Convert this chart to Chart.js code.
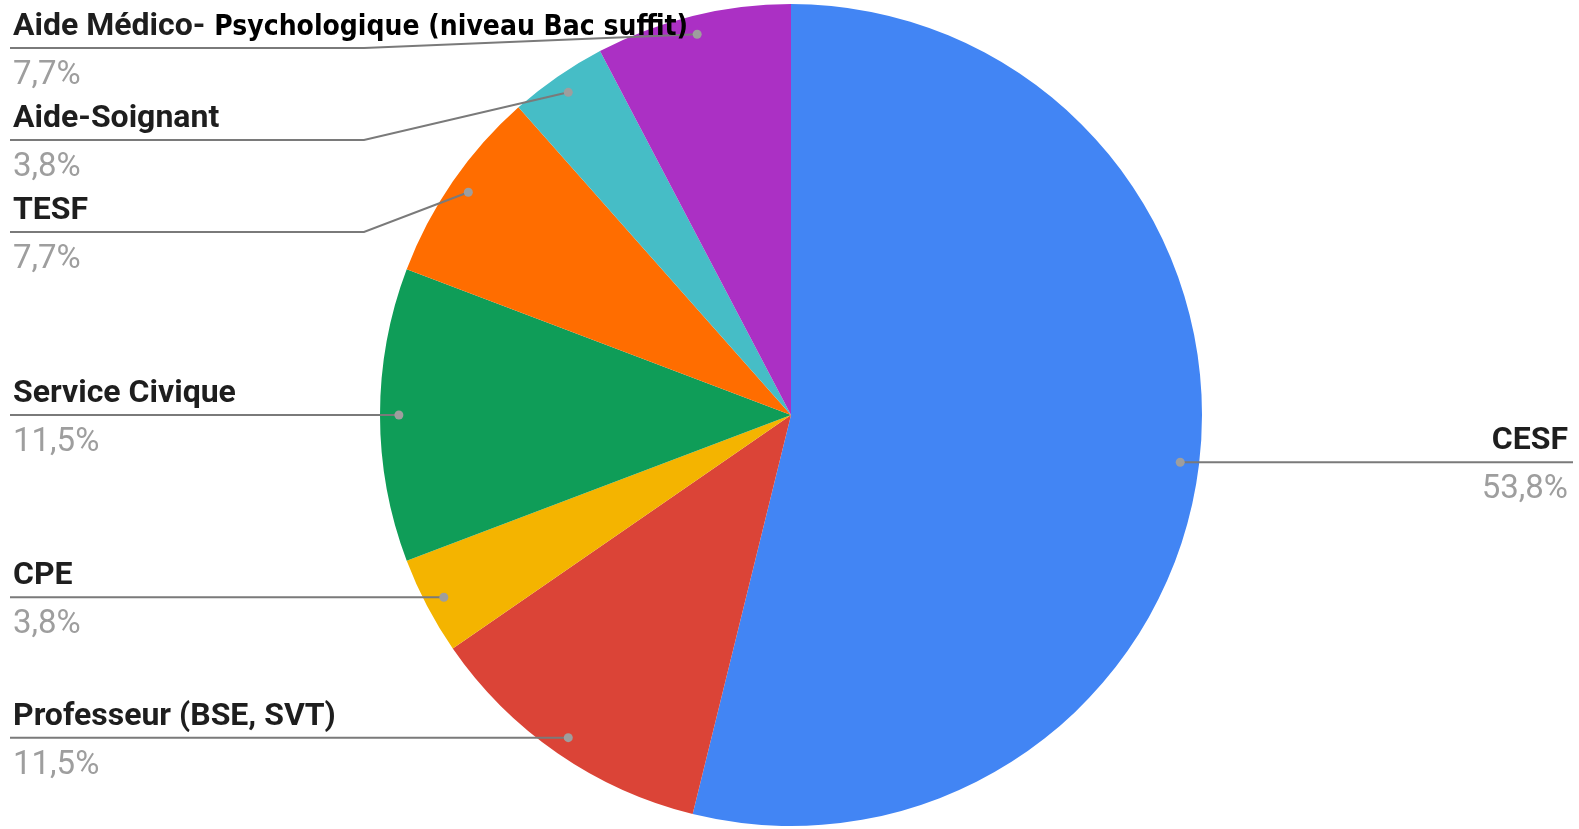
<!DOCTYPE html>
<html>
<head>
<meta charset="utf-8">
<script src="https://cdn.jsdelivr.net/npm/chart.js@4/dist/chart.umd.min.js"></script>
<style>
html,body{margin:0;padding:0;background:#fff;}
#wrap{width:1579px;height:829px;position:relative;}
</style>
</head>
<body>
<div id="wrap"><canvas id="c"></canvas></div>
<script>
const categoryParts = [
  ['CESF'],
  ['Professeur (BSE, SVT)'],
  ['CPE'],
  ['Service Civique'],
  ['TESF'],
  ['Aide-Soignant'],
  ['Aide Médico-', 'Psychologique (niveau Bac suffit)']
];
const categories = categoryParts.map(p => p.join(' '));
const counts = [14, 3, 1, 3, 2, 1, 2];
const sliceColors = ['#4285F4', '#DB4437', '#F4B400', '#0F9D58', '#FF6D00', '#46BDC6', '#AB30C4'];

const total = counts.reduce((a, b) => a + b, 0);
const pctText = v => (v / total * 100).toFixed(1).replace('.', ',') + '%';

const labelPlugin = {
  id: 'sideLabels',
  afterDraw(chart) {
    const ctx = chart.ctx;
    const meta = chart.getDatasetMeta(0);
    const W = chart.width;
    const items = meta.data.map((arc, i) => {
      const mid = (arc.startAngle + arc.endAngle) / 2;
      const r = arc.outerRadius * 0.954;
      return {
        i,
        dx: arc.x + Math.cos(mid) * r,
        dy: arc.y + Math.sin(mid) * r,
        right: Math.cos(mid) > 0
      };
    });
    const gap = 92, minTop = 48;
    ['left', 'right'].forEach(side => {
      const list = items.filter(it => (side === 'right') === it.right).sort((a, b) => a.dy - b.dy);
      let prev = -Infinity;
      list.forEach(it => {
        let y = Math.max(it.dy, minTop, prev + gap);
        it.ly = y;
        prev = y;
      });
    });
    const nameFont = 'bold 32px Roboto';
    const pctFont = '400 33px Roboto';
    items.forEach(it => {
      const ly = it.ly;
      ctx.save();
      ctx.strokeStyle = '#7a7a7a';
      ctx.lineWidth = 2;
      ctx.beginPath();
      if (it.right) {
        ctx.moveTo(it.dx, it.dy);
        const ex = it.dx + 20;
        if (Math.abs(ly - it.dy) > 1) ctx.lineTo(ex, ly);
        ctx.lineTo(W - 6, ly);
      } else {
        ctx.moveTo(10, ly);
        if (Math.abs(ly - it.dy) > 1) ctx.lineTo(364, ly);
        ctx.lineTo(it.dx, it.dy);
      }
      ctx.stroke();
      ctx.fillStyle = '#9e9e9e';
      ctx.beginPath();
      ctx.arc(it.dx, it.dy, 4.5, 0, Math.PI * 2);
      ctx.fill();
      ctx.restore();
    });
    items.forEach(it => {
      const ly = it.ly;
      const parts = categoryParts[it.i];
      ctx.save();
      ctx.textBaseline = 'alphabetic';
      if (it.right) {
        ctx.textAlign = 'right';
        ctx.font = nameFont;
        ctx.fillStyle = '#1e1e1e';
        ctx.fillText(parts.join(' '), W - 11, ly - 13);
        ctx.font = pctFont;
        ctx.fillStyle = '#9e9e9e';
        ctx.fillText(pctText(counts[it.i]), W - 11, ly + 36);
      } else {
        ctx.textAlign = 'left';
        ctx.font = nameFont;
        ctx.fillStyle = '#1e1e1e';
        ctx.fillText(parts[0], 13, ly - 13);
        if (parts.length > 1) {
          const w0 = ctx.measureText(parts[0]).width;
          ctx.font = 'bold 28px "DejaVu Sans Condensed", "DejaVu Sans"';
          ctx.fillStyle = '#000';
          ctx.fillText(parts[1], 13 + w0 + 9, ly - 13);
        }
        ctx.font = pctFont;
        ctx.fillStyle = '#9e9e9e';
        ctx.fillText(pctText(counts[it.i]), 13, ly + 36);
      }
      ctx.restore();
    });
  }
};

new Chart(document.getElementById('c'), {
  type: 'pie',
  data: {
    labels: categories,
    datasets: [{
      data: counts,
      backgroundColor: sliceColors,
      borderWidth: 0
    }]
  },
  options: {
    responsive: true,
    maintainAspectRatio: false,
    animation: false,
    layout: { padding: { top: 4, bottom: 3, left: 3, right: 0 } },
    plugins: {
      legend: { display: false },
      tooltip: { enabled: false }
    }
  },
  plugins: [labelPlugin]
});
</script>
</body>
</html>
